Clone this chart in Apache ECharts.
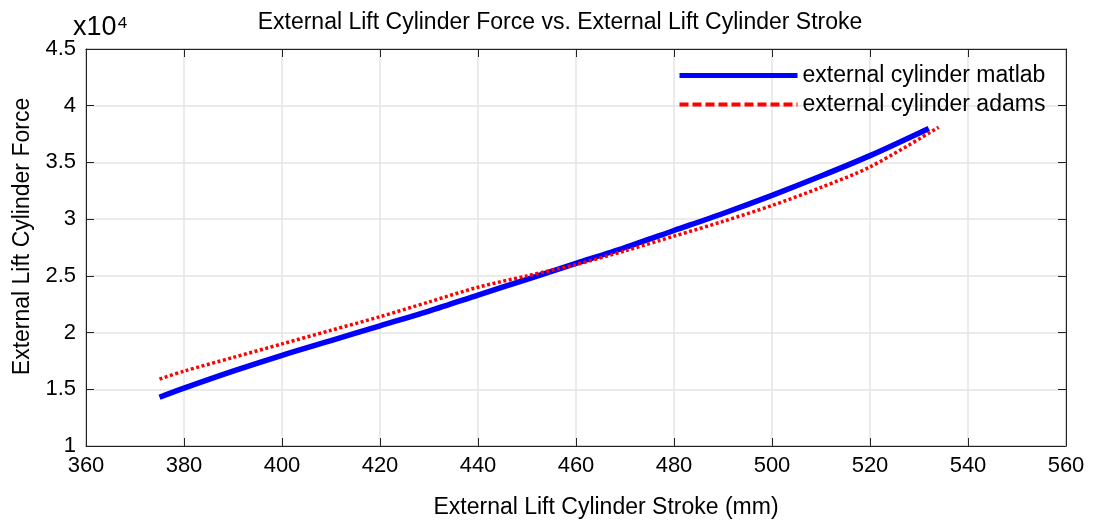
<!DOCTYPE html>
<html>
<head>
<meta charset="utf-8">
<script src="https://cdn.jsdelivr.net/npm/echarts@6/dist/echarts.min.js"></script>
<style>
  html, body { margin: 0; padding: 0; background: #fff; }
  #chart { width: 1096px; height: 521px; }
</style>
</head>
<body>
<div id="chart"></div>
<script>
// stroke (mm)
var stroke = [375, 380, 390, 400, 410, 420, 430, 440, 450, 460, 470, 480, 490, 500, 510, 520, 532];
var strokeAdams = [375, 380, 390, 400, 410, 420, 430, 440, 450, 460, 470, 480, 490, 500, 510, 520, 534];
// force (N)
var forceMatlab = [14300, 15100, 16600, 18000, 19300, 20600, 21900, 23300, 24700, 26100, 27500, 29000, 30500, 32100, 33800, 35600, 38000];
var forceAdams = [15900, 16600, 17800, 19000, 20200, 21400, 22700, 24000, 25000, 26000, 27200, 28500, 29800, 31200, 32800, 34600, 38100];
var xTicks = [360, 380, 400, 420, 440, 460, 480, 500, 520, 540, 560];
var yTicks = [1, 1.5, 2, 2.5, 3, 3.5, 4, 4.5];

function pairs(xs, ys) {
  var out = [];
  for (var i = 0; i < xs.length; i++) out.push([xs[i], ys[i]]);
  return out;
}

var font = 'Liberation Sans, Arial, sans-serif';
var myChart = echarts.init(document.getElementById('chart'));
myChart.setOption({
  animation: false,
  backgroundColor: '#fff',
  title: {
    text: 'External Lift Cylinder Force vs. External Lift Cylinder Stroke',
    left: 555,
    textAlign: 'center',
    top: 6,
    textStyle: { color: '#000', fontSize: 23, fontWeight: 'normal', fontFamily: font }
  },
  graphic: [{
    type: 'text',
    left: 73,
    top: 14,
    style: { text: 'x10\u2074', fontSize: 27, fill: '#000', fontFamily: font }
  }],
  legend: {
    orient: 'vertical',
    left: 677,
    top: 64,
    padding: 0,
    itemWidth: 118,
    itemHeight: 14,
    itemGap: 6,
    textStyle: { color: '#000', fontSize: 23, fontFamily: font },
    itemStyle: { opacity: 0 },
    data: [
      { name: 'external cylinder matlab', itemStyle: { opacity: 0 }, lineStyle: { width: 5, color: '#0000ff', type: 'solid' } },
      { name: 'external cylinder adams', itemStyle: { opacity: 0 }, lineStyle: { width: 4, color: '#ff0000', type: [9, 4] } }
    ]
  },
  grid: {
    left: 86, right: 30, top: 49, bottom: 75,
    outerBoundsMode: 'none',
    show: true, borderColor: '#222', borderWidth: 1
  },
  xAxis: [{
    type: 'value',
    min: xTicks[0], max: xTicks[xTicks.length - 1], interval: 20,
    name: 'External Lift Cylinder Stroke (mm)',
    nameLocation: 'middle',
    nameGap: 50,
    nameTextStyle: { color: '#000', fontSize: 23, fontFamily: font, padding: [0, 0, 0, 60] },
    axisLine: { show: true, onZero: false, lineStyle: { color: '#222' } },
    axisTick: { show: true, inside: true, length: 8, lineStyle: { color: '#222' } },
    axisLabel: { color: '#000', fontSize: 22, fontFamily: font, margin: 9 },
    splitLine: { show: true, lineStyle: { color: '#e4e4e4', width: 1.5 } }
  }, {
    type: 'value', position: 'top',
    min: xTicks[0], max: xTicks[xTicks.length - 1], interval: 20,
    axisLine: { show: true, onZero: false, lineStyle: { color: '#222' } },
    axisTick: { show: true, inside: true, length: 8, lineStyle: { color: '#222' } },
    axisLabel: { show: false },
    splitLine: { show: false }
  }],
  yAxis: [{
    type: 'value',
    min: 10000, max: 45000, interval: 5000,
    name: 'External Lift Cylinder Force',
    nameLocation: 'middle',
    nameGap: 51,
    nameTextStyle: { color: '#000', fontSize: 23, fontFamily: font, padding: [0, 0, 0, 22] },
    axisLine: { show: true, onZero: false, lineStyle: { color: '#222' } },
    axisTick: { show: true, inside: true, length: 8, lineStyle: { color: '#222' } },
    axisLabel: {
      color: '#000', fontSize: 22, fontFamily: font, margin: 10,
      formatter: function (v) { return String(v / 10000); }
    },
    splitLine: { show: true, lineStyle: { color: '#e4e4e4', width: 1.5 } }
  }, {
    type: 'value', position: 'right',
    min: 10000, max: 45000, interval: 5000,
    axisLine: { show: true, onZero: false, lineStyle: { color: '#222' } },
    axisTick: { show: true, inside: true, length: 8, lineStyle: { color: '#222' } },
    axisLabel: { show: false },
    splitLine: { show: false }
  }],
  series: [{
    name: 'external cylinder matlab',
    type: 'line',
    smooth: 0.3,
    symbol: 'none',
    data: pairs(stroke, forceMatlab),
    lineStyle: { color: '#0000ff', width: 5.5 },
    itemStyle: { color: '#0000ff' },
    z: 3
  }, {
    name: 'external cylinder adams',
    type: 'line',
    smooth: 0.3,
    symbol: 'none',
    data: pairs(strokeAdams, forceAdams),
    lineStyle: { color: '#ff0000', width: 3.5, type: [3, 2.5] },
    itemStyle: { color: '#ff0000' },
    z: 4
  }]
});
</script>
</body>
</html>
